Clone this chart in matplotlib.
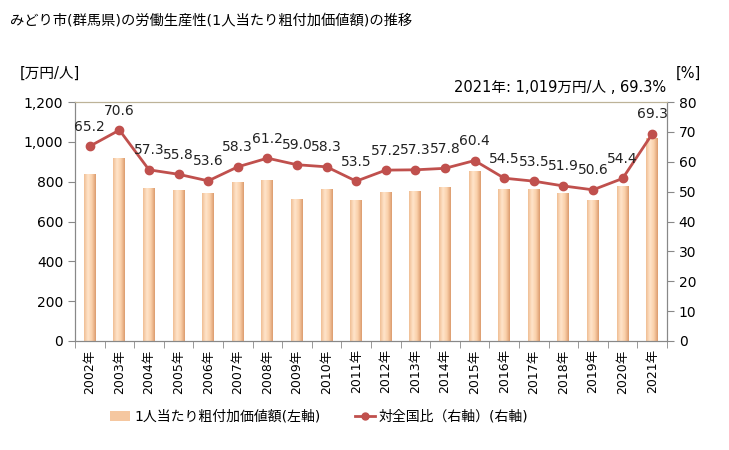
"""Labour productivity chart for Midori city (Gunma)."""

import matplotlib

matplotlib.use("Agg")

import matplotlib.pyplot as plt
import numpy as np
from matplotlib.colors import LinearSegmentedColormap
from matplotlib.lines import Line2D
from matplotlib.patches import Patch

plt.rcParams["font.family"] = ["DejaVu Sans", "Noto Sans CJK JP"]

years = [f"{y}年" for y in range(2002, 2022)]
value_per_worker = [837, 919, 767, 758, 742, 797, 807, 711, 763, 706,
                    747, 753, 773, 854, 763, 763, 743, 708, 778, 1019]
ratio_pct = [65.2, 70.6, 57.3, 55.8, 53.6, 58.3, 61.2, 59.0, 58.3, 53.5,
             57.2, 57.3, 57.8, 60.4, 54.5, 53.5, 51.9, 50.6, 54.4, 69.3]
left_ticks = [0, 200, 400, 600, 800, 1000, 1200]
right_ticks = [0, 10, 20, 30, 40, 50, 60, 70, 80]

title = "みどり市(群馬県)の労働生産性(1人当たり粗付加価値額)の推移"
note = "2021年: 1,019万円/人 , 69.3%"
bar_label = "1人当たり粗付加価値額(左軸)"
line_label = "対全国比（右軸）(右軸)"

LINE_COLOR = "#C0504D"
AXIS_COLOR = "#888888"
bar_cmap = LinearSegmentedColormap.from_list(
    "peach", ["#F0BE94", "#FFE4CA", "#FAD0AA", "#DC9C6E"])

fig = plt.figure(figsize=(7.29, 4.5), dpi=100)
ax = fig.add_axes([75 / 729, 1 - 341 / 450, 592 / 729, 239 / 450])
ax2 = ax.twinx()

x = np.arange(len(years))
bars = ax.bar(x, value_per_worker, width=0.4, color="none", zorder=2)
gradient = np.linspace(0, 1, 64).reshape(1, -1)
for bar in bars:
    x0, y0 = bar.get_x(), bar.get_y()
    w, h = bar.get_width(), bar.get_height()
    img = ax.imshow(gradient, cmap=bar_cmap, aspect="auto",
                    extent=(x0, x0 + w, y0, y0 + h), zorder=2)
    img.set_clip_path(bar)

ax.set_xlim(-0.5, len(years) - 0.5)
ax.set_ylim(0, 1200)
ax.set_yticks(left_ticks)
ax.set_yticklabels([f"{v:,}" for v in left_ticks])
ax.set_xticks(x)
ax.set_xticklabels(years, rotation=90, fontsize=9)
ax.set_xticks(np.arange(-0.5, len(years)), minor=True)
ax.tick_params(axis="x", which="major", length=0, pad=6)
ax.tick_params(axis="x", which="minor", length=5, color=AXIS_COLOR)
ax.tick_params(axis="y", length=5, color=AXIS_COLOR, labelsize=10)

ax2.plot(x, ratio_pct, color=LINE_COLOR, lw=2, marker="o", ms=6, zorder=3)
for xi, v in zip(x, ratio_pct):
    ax2.annotate(f"{v:.1f}", (xi, v), xytext=(0, 9), textcoords="offset points",
                 ha="center", va="bottom", fontsize=10, color="#222222")
ax2.set_ylim(0, 80)
ax2.set_yticks(right_ticks)
ax2.tick_params(axis="y", length=5, color=AXIS_COLOR, labelsize=10)

for a in (ax, ax2):
    a.spines["left"].set_color(AXIS_COLOR)
    a.spines["right"].set_color(AXIS_COLOR)
    a.spines["bottom"].set_color(AXIS_COLOR)
    a.spines["top"].set_color("#BDB398")

fig.text(10 / 729, 1 - 20 / 450, title, fontsize=10.3, va="center", ha="left")
fig.text(20 / 729, 1 - 73 / 450, "[万円/人]", fontsize=10.5, va="center")
fig.text(676 / 729, 1 - 73 / 450, "[%]", fontsize=10.5, va="center")
fig.text(666 / 729, 1 - 87 / 450, note, fontsize=10.5, va="center", ha="right")

bar_handle = Patch(facecolor="#F5C7A0", edgecolor="none", label=bar_label)
line_handle = Line2D([], [], color=LINE_COLOR, lw=2, marker="o", ms=5,
                     label=line_label)
leg1 = fig.legend(handles=[bar_handle], loc="center left",
                  bbox_to_anchor=(97 / 729, 1 - 417 / 450), frameon=False,
                  fontsize=10, handlelength=1.5, handletextpad=0.3)
fig.legend(handles=[line_handle], loc="center left",
           bbox_to_anchor=(342 / 729, 1 - 417 / 450), frameon=False,
           fontsize=10, handlelength=1.5, handletextpad=0.2)

fig.savefig("out.png", dpi=100)
